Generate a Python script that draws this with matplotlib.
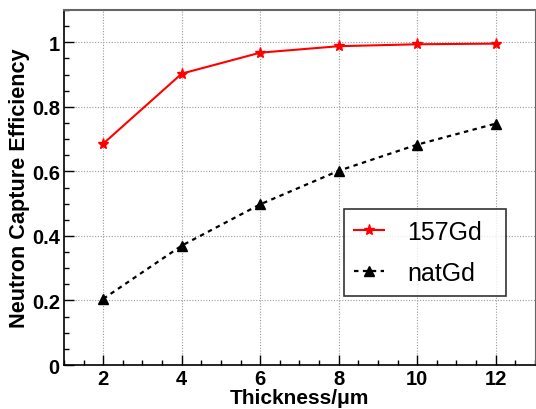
import matplotlib
matplotlib.use("Agg")
import matplotlib.pyplot as plt
from matplotlib.ticker import MultipleLocator

thickness = [2, 4, 6, 8, 10, 12]
eff_157gd = [0.686, 0.903, 0.968, 0.988, 0.994, 0.996]
eff_natgd = [0.205, 0.370, 0.498, 0.602, 0.683, 0.748]
labels = ["157Gd", "natGd"]

plt.rcParams['font.family'] = ['Liberation Sans', 'DejaVu Sans']

fig = plt.figure(figsize=(5.36, 4.10), dpi=100)
ax = fig.add_axes([0.1194, 0.1073, 0.8786, 0.8657])

ax.plot(thickness, eff_157gd, color='red', lw=1.5, marker='*', markersize=8,
        label=labels[0], zorder=3)
ax.plot(thickness, eff_natgd, color='black', lw=1.6, ls=(0, (2, 2)), marker='^',
        markersize=7, label=labels[1], zorder=3)

ax.set_xlim(1, 13)
ax.set_ylim(0, 1.1)
ax.xaxis.set_major_locator(MultipleLocator(2))
ax.xaxis.set_minor_locator(MultipleLocator(0.5))
ax.yaxis.set_minor_locator(MultipleLocator(0.05))
ax.set_yticks([0, 0.2, 0.4, 0.6, 0.8, 1.0])
ax.set_yticklabels(["0", "0.2", "0.4", "0.6", "0.8", "1"])

ax.tick_params(which='both', direction='in', top=False, right=False,
               labelsize=14.5, width=1.0, color='black')
ax.tick_params(which='major', length=7.5)
ax.tick_params(which='minor', length=3.8)
ax.tick_params(axis='y', pad=3)
ax.tick_params(axis='x', pad=3)
for lab in ax.get_xticklabels() + ax.get_yticklabels():
    lab.set_fontweight('bold')

ax.grid(True, which='major', color='#999999', ls=(0, (1, 1.5)), lw=0.8)

for s in ['left', 'bottom']:
    ax.spines[s].set_linewidth(1.2)
    ax.spines[s].set_color('black')
ax.spines['top'].set_color('#666666')
ax.spines['top'].set_linewidth(1.5)
ax.spines['right'].set_color('#666666')

ax.set_xlabel("Thickness/μm", fontsize=15, fontweight='bold', va='baseline')
ax.xaxis.set_label_coords(0.5, (366 - 404) / 355)
ax.set_ylabel("Neutron Capture Efficiency", fontsize=15.6, fontweight='bold')
ax.yaxis.set_label_coords((29.5 - 64) / 471, 0.5)

leg = ax.legend(loc='upper left', bbox_to_anchor=(0.5945, 0.0, 0.344, 0.4394),
                mode='expand', fontsize=18,
                frameon=True, fancybox=False, edgecolor='black', borderpad=0.42,
                handlelength=1.2, handletextpad=0.9, labelspacing=0.7, borderaxespad=0)
leg.get_frame().set_linewidth(1.2)

fig.savefig("out.png", dpi=100)
